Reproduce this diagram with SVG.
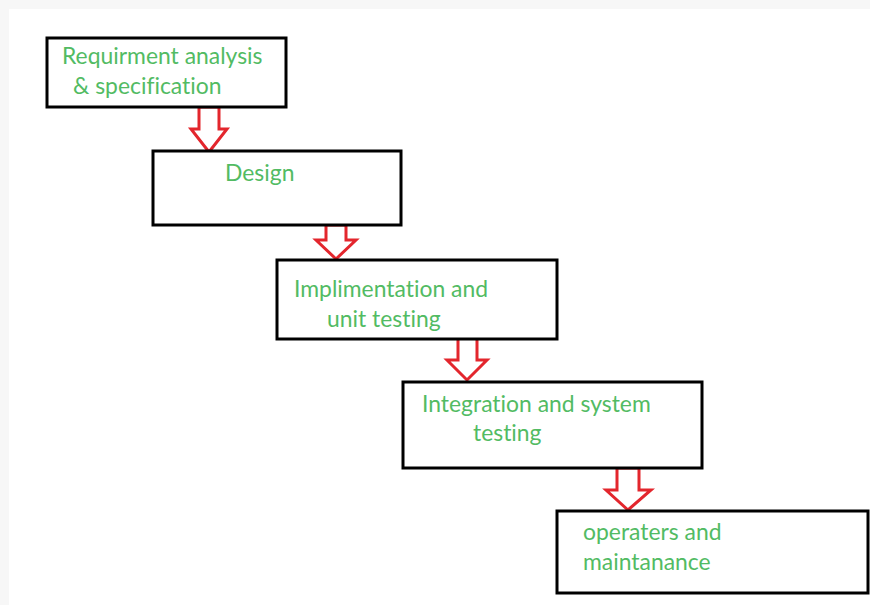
<svg xmlns="http://www.w3.org/2000/svg" width="870" height="605" viewBox="0 0 870 605">
<defs>
<style>
.box{fill:#fff;stroke:#000;stroke-width:3}
.arr{fill:#fff;stroke:#e3262d;stroke-width:3;stroke-linejoin:miter}
.t{font-family:Lato,"Liberation Sans",sans-serif;font-size:22.9px;fill:#52bb63;font-variant-ligatures:none;font-feature-settings:"liga" 0}
</style>
</defs>
<rect x="0" y="0" width="870" height="605" fill="#f7f7f7"/>
<rect x="9" y="9" width="861" height="596" fill="#fff"/>
<g id="connectors">
<path class="arr" d="M199,107 L219,107 L219,129 L227,129 L209,152 L191,129 L199,129 Z"/>
<path class="arr" d="M326,225 L346,225 L346,240 L356,240 L336,259 L316,240 L326,240 Z"/>
<path class="arr" d="M458,338 L477,338 L477,360 L487,360 L467,380 L447,360 L458,360 Z"/>
<path class="arr" d="M617,468 L639,468 L639,490 L651,490 L628,510 L606,490 L617,490 Z"/>
</g>
<g id="n1">
<rect class="box" x="47" y="38" width="239" height="69"/>
<text class="t" x="62" y="64">Requirment analysis</text>
<text class="t" x="73" y="94">&amp; specification</text>
</g>
<g id="n2">
<rect class="box" x="153" y="151" width="248" height="74"/>
<text class="t" x="225" y="181">Design</text>
</g>
<g id="n3">
<rect class="box" x="277" y="260" width="280" height="79"/>
<text class="t" x="294" y="297">Implimentation and</text>
<text class="t" x="327" y="327">unit testing</text>
</g>
<g id="n4">
<rect class="box" x="403" y="382" width="299" height="86"/>
<text class="t" x="422" y="412">Integration and system</text>
<text class="t" x="473" y="441">testing</text>
</g>
<g id="n5">
<rect class="box" x="557" y="511" width="311" height="82"/>
<text class="t" x="583" y="540">operaters and</text>
<text class="t" x="583" y="570">maintanance</text>
</g>
</svg>
